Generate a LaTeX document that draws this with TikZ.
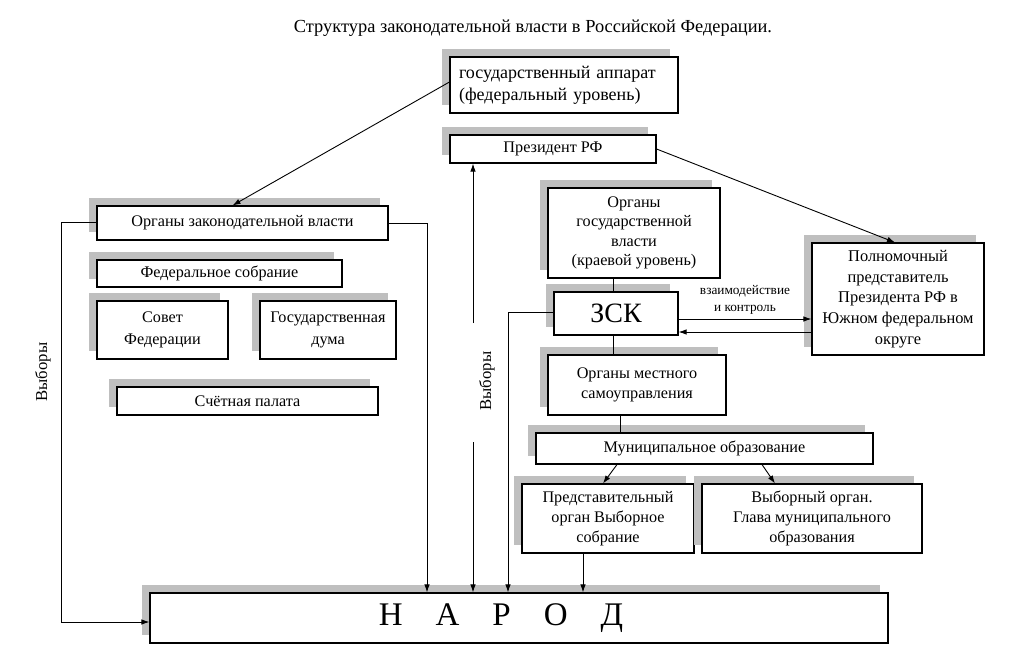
\documentclass[tikz,border=0pt]{standalone}
\usepackage{fontspec}
\setmainfont{Liberation Serif}
\usepackage{tikz}
\usetikzlibrary{positioning,shadows,arrows.meta}

\tikzset{
  orgbox/.style={draw, line width=1.1pt, fill=white, align=center, inner sep=2pt,
                 font=\fontsize{16.2}{20}\selectfont,
                 general shadow={fill=black!25, shadow xshift=-8pt, shadow yshift=8pt}},
  link/.style={line width=0.9pt},
  elect/.style={rotate=90, font=\fontsize{16.7}{19}\selectfont}
}

\begin{document}
\begin{tikzpicture}[x=1pt, y=-1pt, >={Latex[length=8pt,width=5.5pt]}]
\useasboundingbox (0,0) rectangle (1033,662);
\node[font=\fontsize{18.4}{21}\selectfont] (title) at (533,28)
  {Структура законодательной власти в Российской Федерации.};
% federal level
\node[orgbox, text width=210pt, align=left, inner xsep=9pt, minimum height=56,
      font=\fontsize{18}{22}\selectfont] (gov) at (564,85)
  {государственный аппарат\\(федеральный уровень)};
\node[orgbox, minimum width=206, minimum height=28] (pres) at (553,149) {Президент РФ};
\node[orgbox, minimum width=291, minimum height=34] (zak) at (242.5,223)
  {Органы законодательной власти};
\node[orgbox, minimum width=245, minimum height=27] (fed) at (219.5,273.5)
  {Федеральное собрание};
\node[orgbox, minimum width=131, minimum height=58, font=\fontsize{16.2}{21.5}\selectfont]
  (sovet) at (162.5,330) {Совет\\Федерации};
\node[orgbox, minimum width=136, minimum height=58, font=\fontsize{16.2}{21.5}\selectfont]
  (duma) at (328,330) {Государственная\\дума};
\node[orgbox, minimum width=261, minimum height=28] (schet) at (247.5,401)
  {Счётная палата};
% regional level
\node[orgbox, minimum width=172, minimum height=90, font=\fontsize{16.2}{19.5}\selectfont]
  (kray) at (634,233) {Органы\\государственной\\власти\\(краевой уровень)};
\node[orgbox, minimum width=124, minimum height=43,
      font=\fontsize{28}{32}\selectfont] (zsk) at (616,313.5) {ЗСК};
\node[orgbox, minimum width=172, minimum height=112,
      font=\fontsize{16.4}{20.7}\selectfont] (polp) at (898,299)
  {Полномочный\\представитель\\Президента РФ в\\Южном федеральном\\округе};
\node[orgbox, minimum width=178, minimum height=60] (mest) at (637,385)
  {Органы местного\\самоуправления};
\node[orgbox, minimum width=337, minimum height=31] (mun) at (704.5,448.5)
  {Муниципальное образование};
\node[orgbox, minimum width=172, minimum height=69] (pred) at (608,518.5)
  {Представительный\\орган Выборное\\собрание};
\node[orgbox, minimum width=220, minimum height=69] (vyb) at (812,518.5)
  {Выборный орган.\\Глава муниципального\\образования};
\node[orgbox, minimum width=738, minimum height=50,
      font=\fontsize{33}{36}\selectfont] (narod) at (519,618)
  {Н\hspace{33pt}А\hspace{33pt}Р\hspace{33pt}О\hspace{33pt}Д\hspace*{36pt}};
% labels
\node[elect] (vyb1) at (43,372) {Выборы};
\node[elect] (vyb2) at (487,381) {Выборы};
\node[font=\fontsize{13.3}{17}\selectfont, align=center] (inter) at (745,300)
  {взаимодействие\\и контроль};
\coordinate (gapT) at (473,323);
\coordinate (gapB) at (473,442);
% connectors
\draw[link, ->] ([yshift=3pt]gov.west) -- ([xshift=-10pt]zak.north);
\draw[link, ->] (pres.east) -- ([xshift=-3pt]polp.north);
\draw[link, ->] ([yshift=1pt]zak.west) -- ++(-35,0) |- ([yshift=-4pt]narod.west);
\draw[link, ->] (zak.east) -| ([xshift=-92pt]narod.north);
\draw[link, ->] (gapT) -- (gapT |- pres.south);
\draw[link, ->] (gapB) -- (gapB |- narod.north);
\draw[link, ->] ([yshift=1.5pt]zsk.west) -| ([xshift=-11pt]narod.north);
\draw[link] ([xshift=-3pt]zsk.north) -- ([xshift=-3pt]zsk.north |- kray.south);
\draw[link] ([xshift=-3pt]zsk.south) -- ([xshift=-3pt]zsk.south |- mest.north);
\draw[link] ([xshift=-17pt]mest.south) -- ([xshift=-17pt]mest.south |- mun.north);
\draw[link, ->] ([yshift=-5.5pt]zsk.east) -- ([yshift=-5.5pt]zsk.east -| polp.west);
\draw[link, ->] ([yshift=-18.5pt]zsk.east -| polp.west) -- ([yshift=-18.5pt]zsk.east);
\draw[link, ->] ([xshift=-87.5pt]mun.south) -- ([xshift=-5pt]pred.north);
\draw[link, ->] ([xshift=57.5pt]mun.south) -- ([xshift=-37pt]vyb.north);
\draw[link, ->] ([xshift=-25pt]pred.south) -- ([xshift=-25pt]pred.south |- narod.north);
\end{tikzpicture}
\end{document}
